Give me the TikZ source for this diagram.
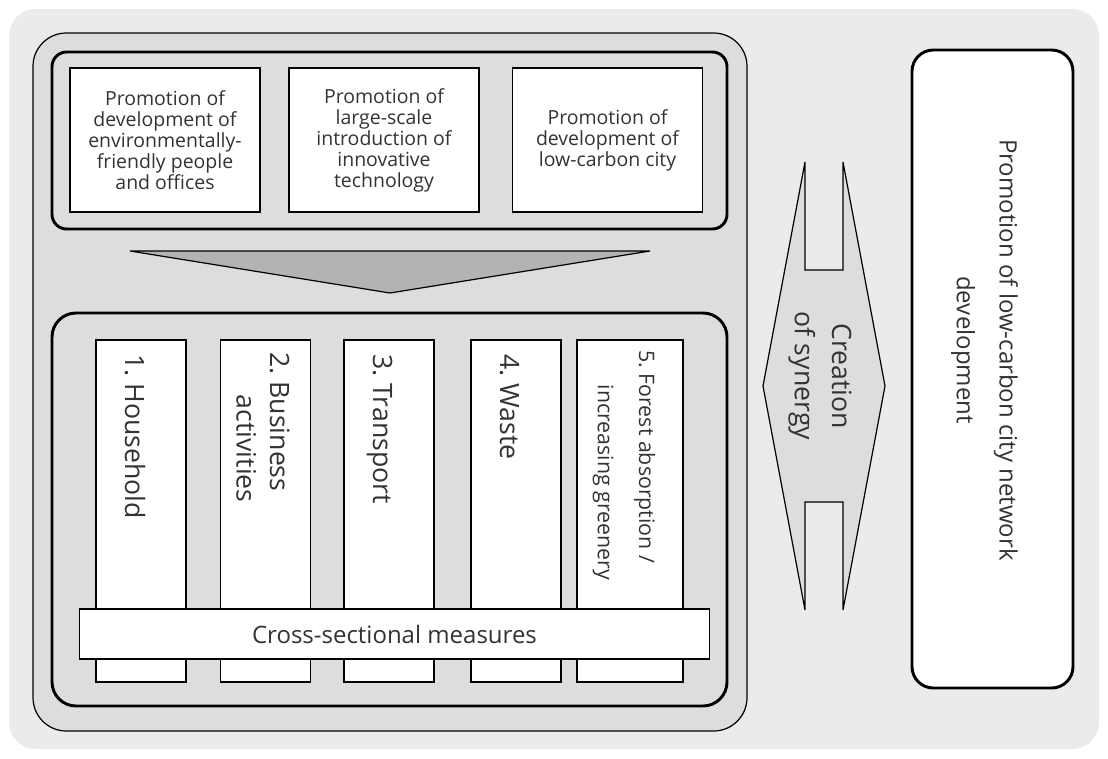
\documentclass[tikz,border=0pt]{standalone}
\usepackage{fontspec}
\setmainfont{Open Sans}
\usetikzlibrary{positioning,calc,backgrounds}
\definecolor{ink}{HTML}{333333}
\definecolor{canvas}{HTML}{EBEBEB}
\definecolor{panel}{HTML}{DDDDDD}
\definecolor{wedge}{HTML}{B3B3B3}
\tikzset{
  outline/.style={draw=black, line width=0.9pt, fill=#1},
  frame/.style={draw=black, line width=2.2pt, fill=panel, rounded corners=#1},
  topbox/.style={outline=white, minimum width=142.5pt, minimum height=108pt, align=center, inner sep=2pt, font=\fontsize{14.6}{15.75}\selectfont},
  colbox/.style={outline=white, minimum width=#1, minimum height=256.5pt},
  collabel/.style={rotate=-90, anchor=west, inner sep=0pt, align=left, font=\fontsize{20}{25}\selectfont},
  crossbox/.style={outline=white, minimum width=473pt, minimum height=37.5pt, font=\fontsize{18}{20}\selectfont},
  goal/.style={draw=black, line width=2.2pt, fill=white, rounded corners=16pt, minimum width=120.75pt, minimum height=478.5pt}
}
\begin{document}
\frenchspacing
\begin{tikzpicture}[x=0.75pt, y=-0.75pt, text=ink]
  \useasboundingbox (0,0) rectangle (1108,758);
  \fill[canvas, rounded corners=20pt] (9,9) rectangle (1099,749);
  \draw[outline=panel, rounded corners=25pt] (33,33) rectangle (747,731);

  % measures from the three promotion pillars
  \draw[frame=11pt] (52,52) rectangle (727,229);
  \node[topbox] (people) at (165,140) {Promotion of\\development of\\environmentally-\\friendly people\\and offices};
  \node[topbox] (tech) at (384,140) {Promotion of\\large-scale\\introduction of\\innovative\\technology};
  \node[topbox] (city) at (607.5,140) {Promotion of\\development of\\low-carbon city};
  \draw[outline=wedge] (130,251) -- (650,251) -- (390,293) -- cycle;

  \draw[frame=18pt] (52,313) rectangle (727,706);
  \node[colbox=67.5pt] (house) at (141,511) {};
  \node[colbox=67.5pt] (business) at (265.5,511) {};
  \node[colbox=67.5pt] (transport) at (389,511) {};
  \node[colbox=67.5pt] (waste) at (516,511) {};
  \node[colbox=79.5pt] (forest) at (630,511) {};
  \node[collabel] (houselbl) at (135,354) {1. Household};
  \node[collabel] (businesslbl) at (263,352) {2. Business\\\hspace*{32pt}activities};
  \node[collabel] (transportlbl) at (379.5,354) {3. Transport};
  \node[collabel] (wastelbl) at (509.5,354) {4. Waste};
  \node[collabel, font=\fontsize{16}{31}\selectfont] (forestlbl) at (624,350) {5. Forest absorption /\\\hspace*{26pt}increasing greenery};
  \node[crossbox] (cross) at (394.5,634) {Cross-sectional measures};

  % synergy arrow between the panel and the goal
  \draw[outline=panel] (805,162) -- (805,270) -- (843,270) -- (843,162) -- (885,386)
    -- (843,610) -- (843,502) -- (805,502) -- (805,610) -- (763,386) -- cycle;
  \node[rotate=-90, align=center, font=\fontsize{20}{28}\selectfont] (synergy) at (820,376) {Creation\\of synergy};

  \node[goal] (network) at (992.5,369) {};
  \node[rotate=-90, align=center, font=\fontsize{18}{32}\selectfont] (networklbl) at (984.5,350) {Promotion of low-carbon city network\\development};
\end{tikzpicture}
\end{document}
